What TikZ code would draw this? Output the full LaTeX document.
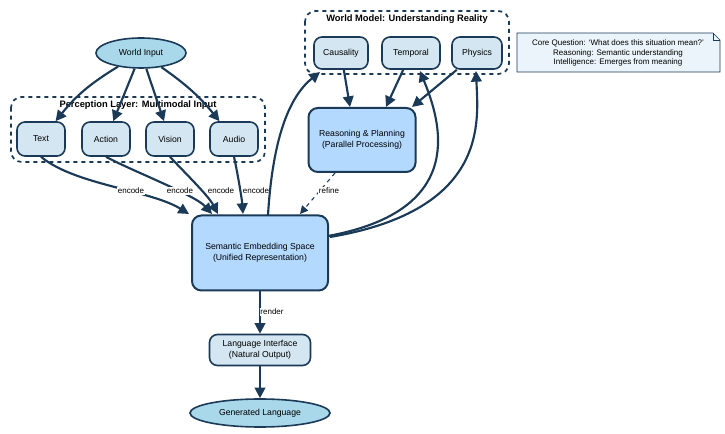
\documentclass[tikz,border=0pt]{standalone}
\usepackage{fontspec}
\setmainfont{Liberation Sans}
\usetikzlibrary{arrows.meta,shapes.geometric,shapes.misc,shapes.symbols}
\begin{document}
\begin{tikzpicture}[x=0.75pt,y=-0.75pt,
  every node/.style={font=\fontsize{6.5}{8}\selectfont},
  sz/.style 2 args={minimum width=#1*0.75pt,minimum height=#2*0.75pt,inner sep=1pt},
  lnk/.style={draw=edgec,line width=1.6pt,-{Triangle[length=8pt,width=8pt]}},
  sbox/.style={draw=edgec,line width=1.2pt,rounded corners=6pt,fill=lightn,align=center},
  bbox/.style={draw=edgec,line width=1.5pt,rounded corners=7pt,fill=bluen,align=center},
  ell/.style={ellipse,draw=edgec,line width=1.2pt,fill=elln,inner sep=0pt},
  grp/.style={draw=edgec,line width=1.3pt,dashed,rounded corners=8pt},
  lbl/.style={font=\fontsize{6}{7}\selectfont,fill=white,inner sep=0.5pt}]
\definecolor{edgec}{HTML}{1B3A57}
\definecolor{lightn}{HTML}{D4E6F1}
\definecolor{bluen}{HTML}{B3D9FF}
\definecolor{elln}{HTML}{A9D8EA}
\definecolor{noten}{HTML}{EAF4FA}
\useasboundingbox (0,0) rectangle (725,434);
% groups
\draw[grp] (11,97) rectangle (265,162);
\node[font=\bfseries\fontsize{7}{8}\selectfont] (pt) at (138,105) {Perception Layer: Multimodal Input};
\draw[grp] (305,11) rectangle (509,74);
\node[font=\bfseries\fontsize{7}{8}\selectfont] (wt) at (407,19) {World Model: Understanding Reality};
% note
\draw[draw=edgec,fill=noten,line width=0.5pt] (517,33) -- (713,33) -- (720,40) -- (720,72) -- (517,72) -- cycle;
\draw[draw=edgec,line width=0.5pt] (713,33) -- (713,40) -- (720,40);
\node[align=center,font=\fontsize{6}{7.4}\selectfont] (note) at (618,53) {Core Question: `What does this situation mean?'\\Reasoning: Semantic understanding\\Intelligence: Emerges from meaning};
% nodes
\node[ell,sz={90}{30}] (wi) at (141,53) {World Input};
\node[sbox,sz={48}{34}] (text) at (41,139) {Text};
\node[sbox,sz={48}{34}] (act) at (106,139) {Action};
\node[sbox,sz={48}{34}] (vis) at (170,139) {Vision};
\node[sbox,sz={48}{34}] (aud) at (234,139) {Audio};
\node[sbox,sz={54}{32}] (cau) at (341,53) {Causality};
\node[sbox,sz={58}{32}] (tem) at (411,53) {Temporal};
\node[sbox,sz={50}{32}] (phy) at (477,53) {Physics};
\node[bbox,sz={107}{64}] (rea) at (362,140) {Reasoning \& Planning\\(Parallel Processing)};
\node[bbox,sz={136}{75}] (sem) at (260,253) {Semantic Embedding Space\\(Unified Representation)};
\node[sbox,sz={101}{31}] (lang) at (260,350) {Language Interface\\(Natural Output)};
\node[ell,sz={140}{28}] (gen) at (260,413) {Generated Language};
% edges
\draw[lnk] (wi) to[bend right=10] (text);
\draw[lnk] (wi) -- (act);
\draw[lnk] (wi) -- (vis);
\draw[lnk] (wi) to[bend left=8] (aud);
\draw[lnk] (text.south) .. controls (75,185) and (150,190) .. (189,214);
\draw[lnk] (act.south) .. controls (130,170) and (195,195) .. (212,214);
\draw[lnk] (vis.south) .. controls (182,170) and (208,195) .. (218,214);
\draw[lnk] (aud.south) .. controls (238,175) and (242,200) .. (243,214);
\node[lbl] at (131,191) {encode};
\node[lbl] at (180,191) {encode};
\node[lbl] at (221,191) {encode};
\node[lbl] at (256,191) {encode};
\draw[lnk] (268,215) .. controls (272,150) and (285,100) .. (320,72);
\draw[lnk] (328,236) .. controls (470,210) and (440,120) .. (420,71);
\draw[lnk] (330,237) .. controls (490,210) and (478,120) .. (476,71);
\draw[lnk] (cau) -- (350,107);
\draw[lnk] (tem) -- (386,107);
\draw[lnk] (phy) -- (412,107);
\draw[draw=edgec,line width=0.8pt,dashed,-{Triangle[length=6pt,width=6pt]}] (335,173) -- (300,214);
\node[lbl] at (329,191) {refine};
\draw[lnk] (sem) -- (lang);
\node[lbl] at (272,312) {render};
\draw[lnk] (lang) -- (gen);
\end{tikzpicture}
\end{document}
